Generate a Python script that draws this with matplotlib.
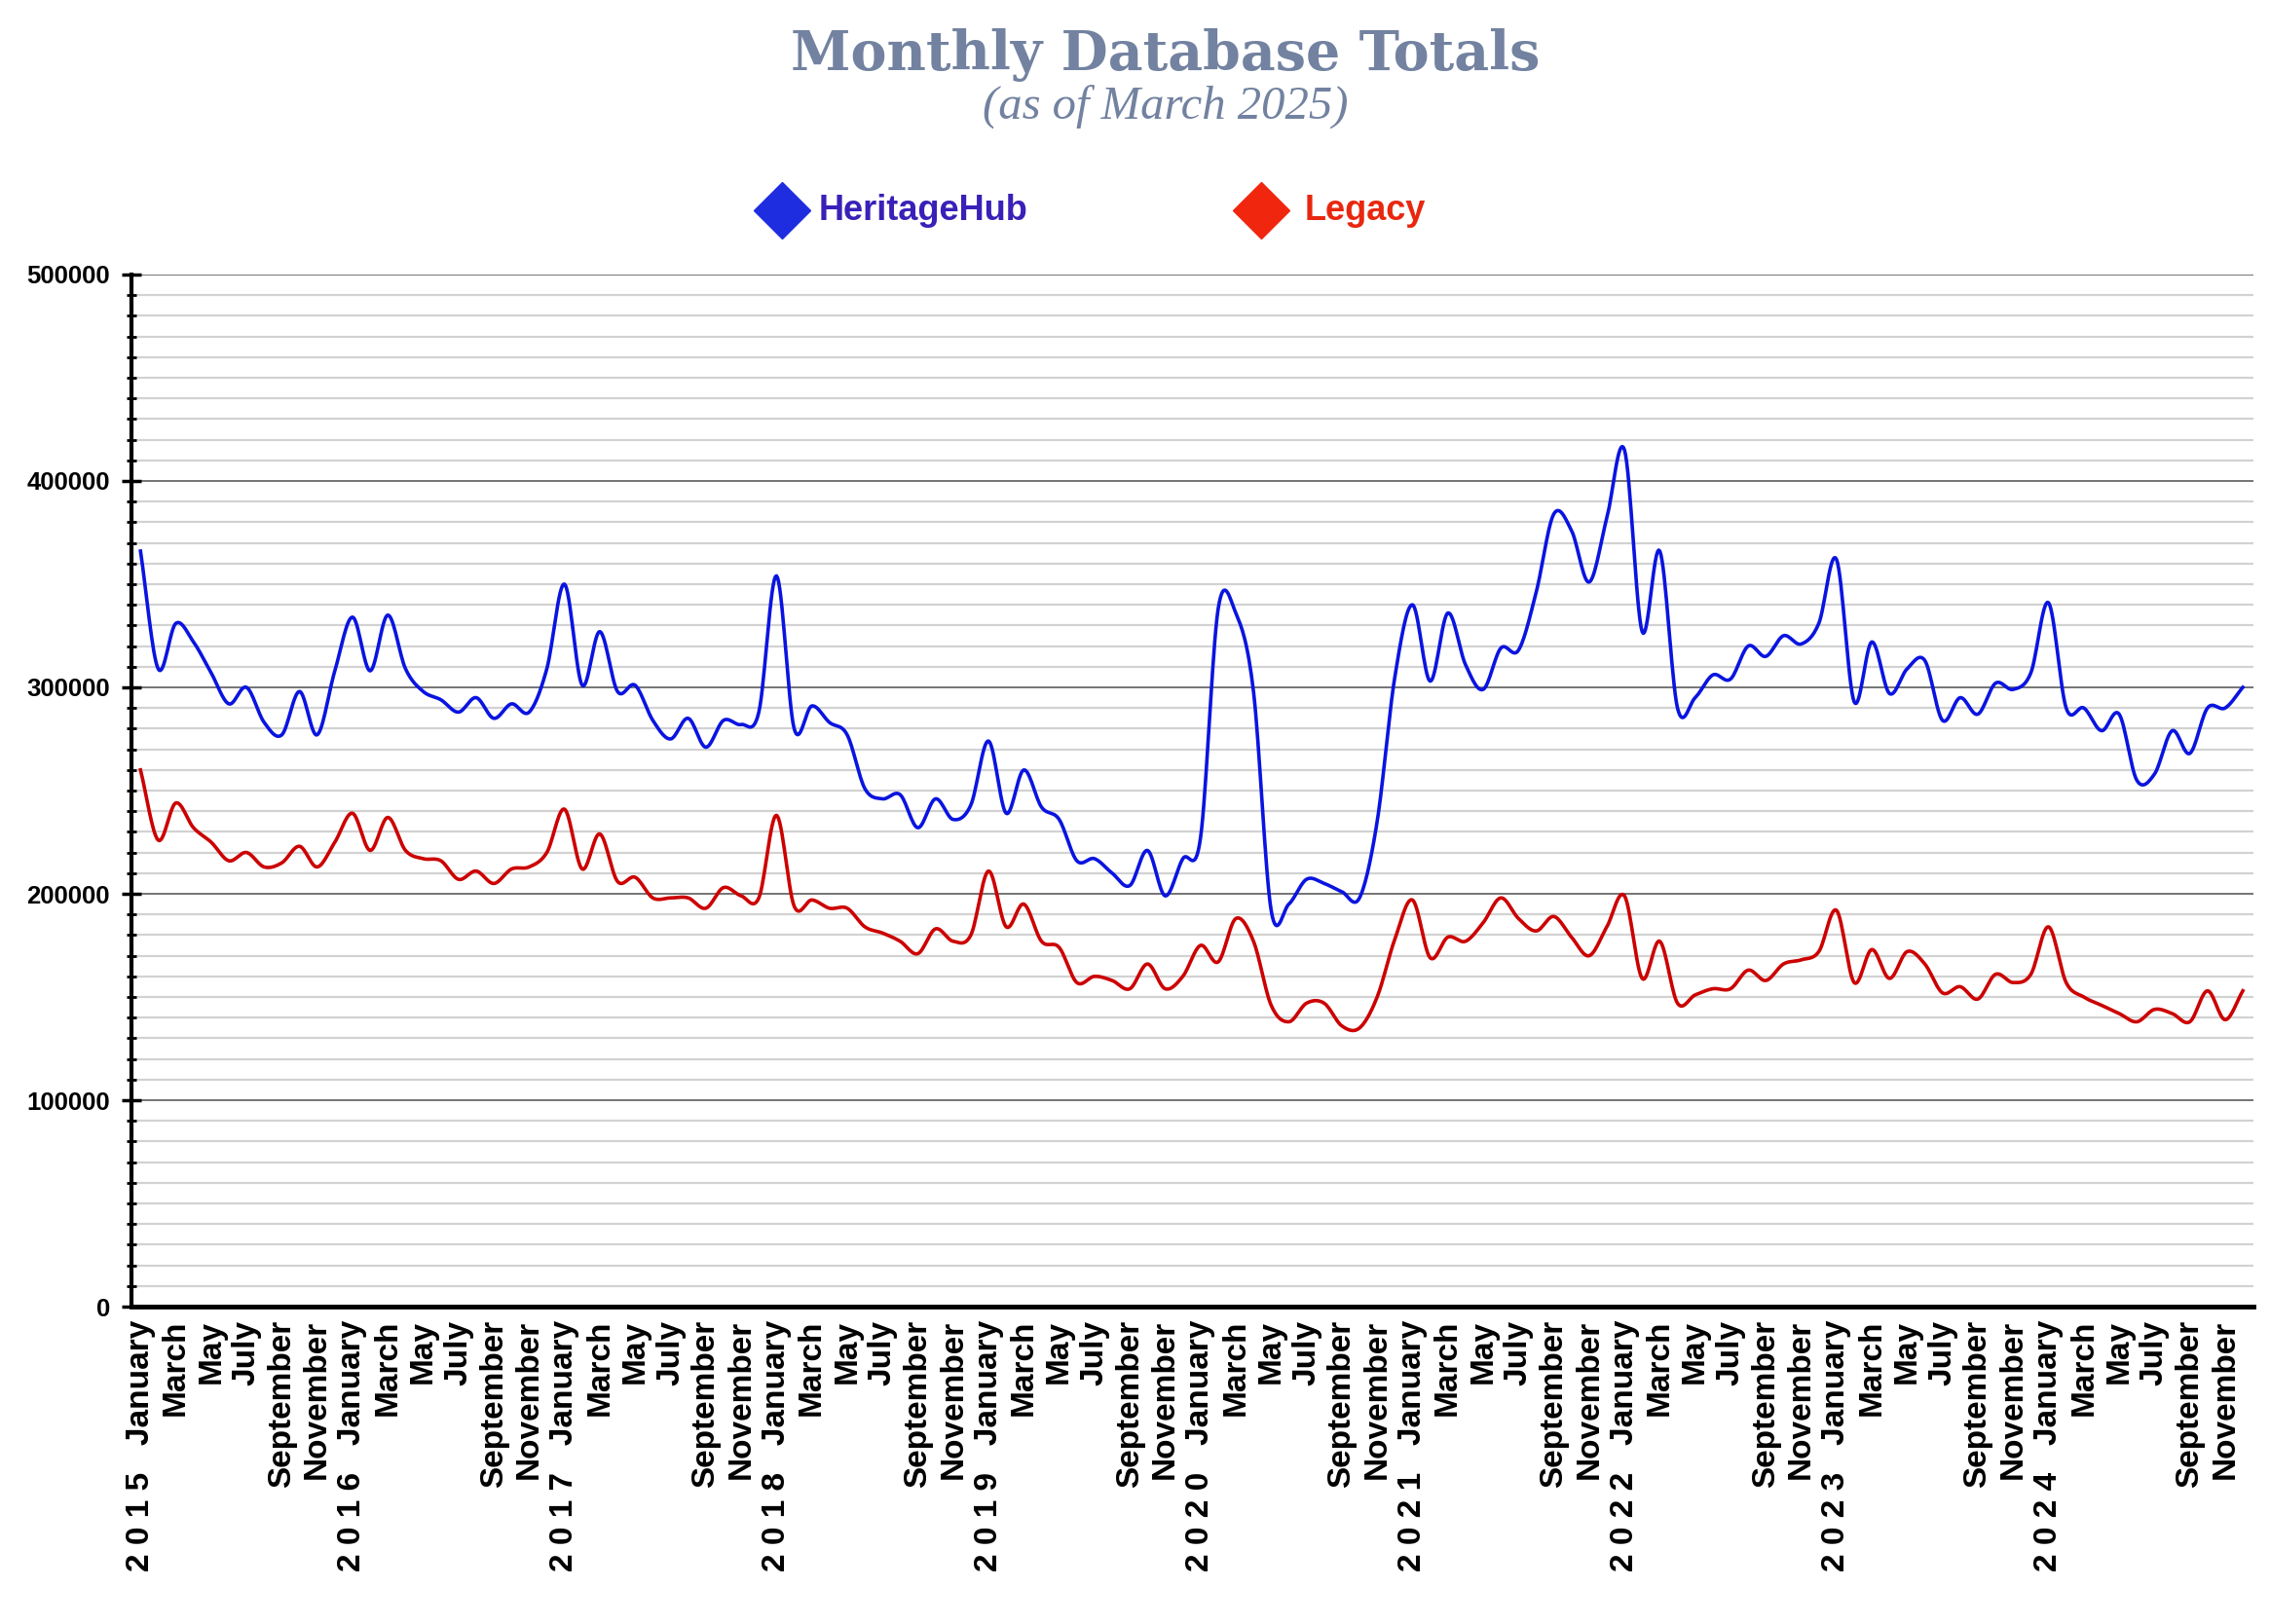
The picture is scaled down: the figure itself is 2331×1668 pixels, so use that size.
import numpy as np
import matplotlib.pyplot as plt
from matplotlib.lines import Line2D
from matplotlib.ticker import MultipleLocator, FuncFormatter

years = list(range(2015, 2025))
month_labels = ['January', 'March', 'May', 'July', 'September', 'November']

# monthly totals, Jan 2015 .. Dec 2024
heritagehub = [
    366000, 309000, 331000, 322000, 307000, 292000, 300000, 283000, 277000, 298000, 277000, 308000,
    334000, 308000, 335000, 309000, 298000, 294000, 288000, 295000, 285000, 292000, 288000, 309000,
    350000, 301000, 327000, 298000, 301000, 284000, 275000, 285000, 271000, 284000, 282000, 288000,
    354000, 280000, 291000, 283000, 277000, 251000, 246000, 248000, 232000, 246000, 236000, 243000,
    274000, 239000, 260000, 242000, 236000, 216000, 217000, 210000, 204000, 221000, 199000, 217000,
    227000, 338000, 336000, 298000, 192000, 195000, 207000, 205000, 201000, 198000, 235000, 305000,
    340000, 303000, 336000, 311000, 299000, 319000, 318000, 346000, 384000, 376000, 351000, 382000,
    415000, 327000, 366000, 290000, 295000, 306000, 304000, 320000, 315000, 325000, 321000, 331000,
    362000, 293000, 322000, 297000, 309000, 313000, 284000, 295000, 287000, 302000, 299000, 307000,
    341000, 290000, 290000, 279000, 287000, 255000, 258000, 279000, 268000, 290000, 290000, 300000,
]
legacy = [
    260000, 226000, 244000, 232000, 225000, 216000, 220000, 213000, 215000, 223000, 213000, 225000,
    239000, 221000, 237000, 221000, 217000, 216000, 207000, 211000, 205000, 212000, 213000, 220000,
    241000, 212000, 229000, 206000, 208000, 198000, 198000, 198000, 193000, 203000, 199000, 198000,
    238000, 194000, 197000, 193000, 193000, 184000, 181000, 177000, 171000, 183000, 177000, 180000,
    211000, 184000, 195000, 177000, 174000, 157000, 160000, 158000, 154000, 166000, 154000, 160000,
    175000, 167000, 188000, 177000, 146000, 138000, 147000, 147000, 136000, 135000, 150000, 178000,
    197000, 169000, 179000, 177000, 186000, 198000, 188000, 182000, 189000, 179000, 170000, 184000,
    199000, 159000, 177000, 147000, 151000, 154000, 154000, 163000, 158000, 166000, 168000, 172000,
    192000, 157000, 173000, 159000, 172000, 166000, 152000, 155000, 149000, 161000, 157000, 161000,
    184000, 157000, 150000, 146000, 142000, 138000, 144000, 142000, 138000, 153000, 139000, 153000,
]


def smooth(y, steps=16):
    # catmull-rom through the points, like the "function" curve of the original
    y = np.asarray(y, float)
    n = len(y)
    tang = np.empty(n)
    tang[1:-1] = (y[2:] - y[:-2]) / 2
    tang[0] = y[1] - y[0]
    tang[-1] = y[-1] - y[-2]
    xs, ys = [], []
    t = np.linspace(0, 1, steps, endpoint=False)
    h00 = 2 * t**3 - 3 * t**2 + 1
    h10 = t**3 - 2 * t**2 + t
    h01 = -2 * t**3 + 3 * t**2
    h11 = t**3 - t**2
    for i in range(n - 1):
        xs.append(i + t)
        ys.append(h00 * y[i] + h10 * tang[i] + h01 * y[i + 1] + h11 * tang[i + 1])
    xs.append([n - 1])
    ys.append([y[-1]])
    return np.concatenate(xs), np.concatenate(ys)


fig = plt.figure(figsize=(23.31, 16.68), dpi=100)
ax = fig.add_axes([0.058, 0.1954, 0.9347, 0.6356])

x, y = smooth(heritagehub)
ax.plot(x, y, color='#0a14e0', lw=2.6, zorder=3)
x, y = smooth(legacy)
ax.plot(x, y, color='#cc0000', lw=2.6, zorder=3)

ax.set_xlim(-0.5, 119.6)
ax.set_ylim(0, 500000)
ax.yaxis.set_major_locator(MultipleLocator(100000))
ax.yaxis.set_minor_locator(MultipleLocator(10000))
ax.yaxis.set_major_formatter(FuncFormatter(lambda v, p: f"{int(v)}"))
ax.grid(which='minor', axis='y', color='#d2d2d2', lw=1.6)
ax.grid(which='major', axis='y', color='#747474', lw=1.4)
ax.set_axisbelow(True)

for s in ['top', 'right']:
    ax.spines[s].set_visible(False)
ax.spines['left'].set_linewidth(3)
ax.spines['bottom'].set_linewidth(3.5)

ax.tick_params(axis='y', which='major', direction='inout', length=14, width=2.5, pad=9)
ax.tick_params(axis='y', which='minor', direction='inout', length=7, width=2)
for lbl in ax.get_yticklabels():
    lbl.set_fontfamily('Liberation Sans')
    lbl.set_fontweight('bold')
    lbl.set_fontsize(18.5)

tick_pos = list(range(0, 120, 2))
tick_text = []
for yr in years:
    for j, m in enumerate(month_labels):
        if j == 0:
            tick_text.append(' '.join(str(yr)) + '   ' + m)
        else:
            tick_text.append(m)
ax.set_xticks(tick_pos)
ax.set_xticklabels(tick_text, rotation=90, ha='center', va='top', fontsize=24,
                   fontweight='bold', family='Liberation Sans')
ax.tick_params(axis='x', length=0, pad=10)

# title
fig.text(0.5135, 0.966, 'Monthly Database Totals', ha='center', va='center',
         fontsize=40, fontweight='bold', family='DejaVu Serif', color='#7282a0')
fig.text(0.5135, 0.934, '(as of March 2025)', ha='center', va='center',
         fontsize=35, style='italic', family='Liberation Serif', color='#7282a0')

# legend
leg_y = 1 - 216 / 1668
fig.add_artist(Line2D([803 / 2331], [leg_y], marker='D', ms=30, color='#1f2de0',
                      linestyle='none', transform=fig.transFigure))
fig.text(841 / 2331, leg_y, 'HeritageHub', ha='left', va='center', fontsize=26,
         fontweight='bold', family='Liberation Sans', color='#3a20b8')
fig.add_artist(Line2D([1295 / 2331], [leg_y], marker='D', ms=30, color='#f0260e',
                      linestyle='none', transform=fig.transFigure))
fig.text(1340 / 2331, leg_y, 'Legacy', ha='left', va='center', fontsize=26,
         fontweight='bold', family='Liberation Sans', color='#e8270f')

fig.savefig('out.png', dpi=100)
